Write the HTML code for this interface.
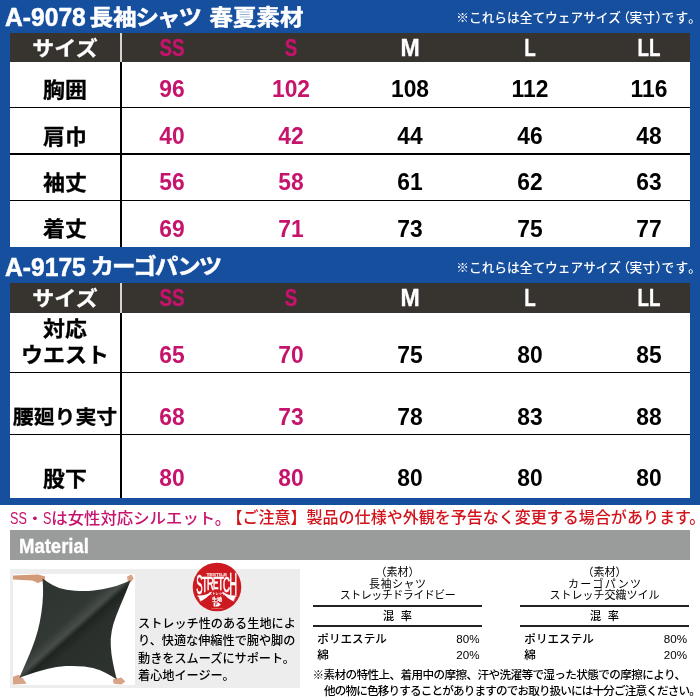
<!DOCTYPE html>
<html lang="ja">
<head>
<meta charset="utf-8">
<title>サイズ表</title>
<style>
html,body{margin:0;padding:0;}
body{width:700px;height:700px;position:relative;overflow:hidden;background:#fff;
 font-family:"Liberation Sans","Noto Sans CJK JP",sans-serif;color:#000;}
.abs{position:absolute;white-space:nowrap;}
.blue{left:0;top:0;width:700px;height:505px;background:#164f9e;}
.ttl{color:#fff;-webkit-text-stroke:.5px #fff;font-weight:bold;font-size:23.5px;line-height:28px;height:28px;}
.ttl .lat{display:inline-block;font-size:25.8px;transform:scaleX(.955);transform-origin:0 50%;position:relative;left:-1.5px;top:-0.2px;}
.ttl .cj{display:inline-block;transform:scaleY(.92);transform-origin:0 55%;}
.note{color:#fff;font-size:12.7px;line-height:16px;font-weight:500;}
.pa{font-feature-settings:"halt" 1;}
.note .pa{margin:0 -.4px 0 2.8px;}
.note .pb{font-feature-settings:"halt" 1;margin:0 -.5px 0 .6px;}
.note .ds{letter-spacing:1.4px;}
.tbl{background:#fff;left:10px;width:680px;}
.hdr{background:#37332f;left:10px;width:680px;}
.hl{background:#000;height:1.4px;left:10px;width:680px;}
.vl{background:#000;width:1.5px;left:120.3px;}
.vlw{background:#d4d4d4;width:1.5px;left:120.3px;}
.c{text-align:center;font-weight:bold;}
.lab{-webkit-text-stroke:.3px currentColor;}
.hd{-webkit-text-stroke:.35px currentColor;}
.lab{font-size:21.5px;line-height:24px;width:120px;left:5px;transform:scale(1.02,.97);}
.num{font-size:24px;line-height:24px;width:100px;transform:scaleX(.95);}
.hd{font-size:23.5px;line-height:24px;width:100px;transform:scaleX(.80);color:#fff;}
.m{color:#c6136c;}
.n1{font-weight:500;font-size:16.4px;line-height:20px;top:508.2px;transform:scaleY(.94);transform-origin:0 50%;}
.sq{display:inline-block;font-size:18px;line-height:20px;vertical-align:top;transform:scaleX(.7);transform-origin:0 50%;position:relative;top:-.4px;}
.bar{left:10px;top:530px;width:680px;height:30px;background:#9a9b9b;}
.mat{left:19.3px;top:534.1px;color:#fff;font-weight:bold;-webkit-text-stroke:.3px #fff;font-size:20px;line-height:24px;transform:scaleX(.925);transform-origin:0 50%;}
.panel{left:10px;top:569px;width:290px;height:119px;background:#ededed;}
.photo{left:13px;top:574px;width:122px;height:111px;background:#fff;}
.desc{left:138px;font-size:12.15px;line-height:17.6px;color:#000;font-weight:500;}
.ct{font-size:11px;line-height:12px;text-align:center;width:180px;color:#000;}
.ln{height:1.4px;background:#222;}
.cm{font-size:11.6px;line-height:14px;color:#000;font-weight:500;}
.fn{font-size:11.6px;line-height:14px;color:#000;letter-spacing:-.85px;font-weight:500;}
</style>
</head>
<body>
<div class="abs blue"></div>
<div class="abs ttl" style="left:6px;top:3.5px;"><span class="lat">A-9078</span></div>
<div class="abs ttl" style="left:89.5px;top:3.5px;"><span class="cj">長袖<span style="letter-spacing:-2px;margin-left:-1px">シャツ</span></span></div>
<div class="abs ttl" style="left:209.5px;top:3.5px;"><span class="cj">春夏素材</span></div>
<div class="abs note" style="left:456.3px;top:9.8px;">※これらは全てウェアサイズ<span class="pa">（</span>実寸<span class="pb">）</span><span class="ds">です。</span></div>
<div class="abs tbl" style="top:33.2px;height:213.9px;"></div>
<div class="abs hdr" style="top:33.2px;height:29.1px;"></div>
<div class="abs vlw" style="top:33.2px;height:29.1px;"></div>
<div class="abs vl" style="top:62.3px;height:184.8px;"></div>
<div class="abs hl" style="top:106.7px;"></div>
<div class="abs hl" style="top:153.3px;"></div>
<div class="abs hl" style="top:199.7px;"></div>
<div class="abs c lab" style="color:#fff;font-size:22px;top:37.1px;transform:scale(1.0,.93);">サイズ</div>
<div class="abs c hd m" style="left:122px;top:35.5px;">SS</div>
<div class="abs c hd m" style="left:241.4px;top:35.5px;">S</div>
<div class="abs c hd" style="left:360.3px;top:35.5px;transform:scaleX(.98);">M</div>
<div class="abs c hd" style="left:479.7px;top:35.5px;">L</div>
<div class="abs c hd" style="left:598.8px;top:35.5px;">LL</div>
<div class="abs c lab" style="top:78px;">胸囲</div>
<div class="abs c num m" style="left:122px;top:77.4px;">96</div>
<div class="abs c num m" style="left:241.4px;top:77.4px;">102</div>
<div class="abs c num" style="left:360.3px;top:77.4px;">108</div>
<div class="abs c num" style="left:479.7px;top:77.4px;">112</div>
<div class="abs c num" style="left:598.8px;top:77.4px;">116</div>
<div class="abs c lab" style="top:124.5px;">肩巾</div>
<div class="abs c num m" style="left:122px;top:123.9px;">40</div>
<div class="abs c num m" style="left:241.4px;top:123.9px;">42</div>
<div class="abs c num" style="left:360.3px;top:123.9px;">44</div>
<div class="abs c num" style="left:479.7px;top:123.9px;">46</div>
<div class="abs c num" style="left:598.8px;top:123.9px;">48</div>
<div class="abs c lab" style="top:170.5px;">袖丈</div>
<div class="abs c num m" style="left:122px;top:170.4px;">56</div>
<div class="abs c num m" style="left:241.4px;top:170.4px;">58</div>
<div class="abs c num" style="left:360.3px;top:170.4px;">61</div>
<div class="abs c num" style="left:479.7px;top:170.4px;">62</div>
<div class="abs c num" style="left:598.8px;top:170.4px;">63</div>
<div class="abs c lab" style="top:216.5px;">着丈</div>
<div class="abs c num m" style="left:122px;top:216.9px;">69</div>
<div class="abs c num m" style="left:241.4px;top:216.9px;">71</div>
<div class="abs c num" style="left:360.3px;top:216.9px;">73</div>
<div class="abs c num" style="left:479.7px;top:216.9px;">75</div>
<div class="abs c num" style="left:598.8px;top:216.9px;">77</div>
<div class="abs ttl" style="left:6px;top:253.5px;"><span class="lat">A-9175</span></div>
<div class="abs ttl" style="left:90.5px;top:253px;"><span class="cj" style="letter-spacing:-2.1px;">カーゴパンツ</span></div>
<div class="abs note" style="left:456.3px;top:259.8px;">※これらは全てウェアサイズ<span class="pa">（</span>実寸<span class="pb">）</span><span class="ds">です。</span></div>
<div class="abs tbl" style="top:283px;height:214.6px;"></div>
<div class="abs hdr" style="top:283px;height:29.5px;"></div>
<div class="abs vlw" style="top:283px;height:29.5px;"></div>
<div class="abs vl" style="top:312.5px;height:185.1px;"></div>
<div class="abs hl" style="top:372.1px;"></div>
<div class="abs hl" style="top:433.5px;"></div>
<div class="abs c lab" style="color:#fff;font-size:22px;top:287.4px;transform:scale(1.0,.93);">サイズ</div>
<div class="abs c hd m" style="left:122px;top:285.8px;">SS</div>
<div class="abs c hd m" style="left:241.4px;top:285.8px;">S</div>
<div class="abs c hd" style="left:360.3px;top:285.8px;transform:scaleX(.98);">M</div>
<div class="abs c hd" style="left:479.7px;top:285.8px;">L</div>
<div class="abs c hd" style="left:598.8px;top:285.8px;">LL</div>
<div class="abs c lab" style="font-size:21.5px;top:317px;">対応</div>
<div class="abs c lab" style="font-size:21.6px;top:343.3px;">ウエスト</div>
<div class="abs c num m" style="left:122px;top:343.4px;">65</div>
<div class="abs c num m" style="left:241.4px;top:343.4px;">70</div>
<div class="abs c num" style="left:360.3px;top:343.4px;">75</div>
<div class="abs c num" style="left:479.7px;top:343.4px;">80</div>
<div class="abs c num" style="left:598.8px;top:343.4px;">85</div>
<div class="abs c lab" style="font-size:20.5px;top:405px;">腰廻り実寸</div>
<div class="abs c num m" style="left:122px;top:404.9px;">68</div>
<div class="abs c num m" style="left:241.4px;top:404.9px;">73</div>
<div class="abs c num" style="left:360.3px;top:404.9px;">78</div>
<div class="abs c num" style="left:479.7px;top:404.9px;">83</div>
<div class="abs c num" style="left:598.8px;top:404.9px;">88</div>
<div class="abs c lab" style="top:467px;">股下</div>
<div class="abs c num m" style="left:122px;top:466.4px;">80</div>
<div class="abs c num m" style="left:241.4px;top:466.4px;">80</div>
<div class="abs c num" style="left:360.3px;top:466.4px;">80</div>
<div class="abs c num" style="left:479.7px;top:466.4px;">80</div>
<div class="abs c num" style="left:598.8px;top:466.4px;">80</div>
<div class="abs n1" style="left:10.3px;color:#c6136c;"><span class="sq" style="width:16.4px;">SS</span>・<span class="sq" style="width:8.2px;">S</span>は女性対応シルエット。</div>
<div class="abs n1" style="left:226.5px;top:507px;transform:none;font-size:16.03px;color:#d3141c;font-weight:500;">【ご注意】製品の仕様や外観を予告なく変更する場合があります。</div>
<div class="abs bar"></div><div class="abs mat">Material</div>
<div class="abs panel"></div><div class="abs photo"></div>
<svg class="abs" style="left:13px;top:574px;" width="122" height="111" viewBox="13 574 122 111">
<path d="M13,575.6 L37.9,574.6 L45.3,576.5 L44.4,580.4 L37.9,583 L32.3,580.4 L13,579.5 Z" fill="#d39a7a"/>
<path d="M127,576.5 L131.6,574.4 L133.700,578.4 L130.700,582.3 L127.600,580.6 Z" fill="#d8a488"/>
<path d="M13,676.8 L18.4,674.7 L23,678.4 L26.700,683.8 L13,684.6 Z" fill="#d8a488"/>
<path d="M112.800,679.6 L121.400,677.5 L125.300,681.4 L121.400,684.4 L113.800,683.8 Z" fill="#d8a488"/>
<path d="M42.5,578.4 L47.6,582.1 Q52.7,585.8 59.2,587.9 Q65.7,590.0 75.0,590.7 Q84.3,591.4 93.6,590.5 Q102.9,589.5 110.3,587.6 Q117.7,585.8 124.2,583.0 L130.7,580.2 L128.3,586.2 Q126.0,592.3 122.8,599.7 Q119.6,607.1 116.3,615.5 Q113.0,623.9 111.7,631.3 Q110.3,638.7 110.8,646.2 Q111.2,653.6 112.6,661.0 Q114.0,668.4 115.4,674.0 L116.8,679.6 L111.7,676.3 Q106.6,673.0 100.1,670.2 Q93.6,667.5 84.3,666.5 Q75.0,665.6 65.7,666.1 Q56.4,666.6 47.1,668.9 Q37.9,671.2 28.6,674.5 L19.3,677.7 L22.6,670.3 Q25.8,662.9 29.0,655.5 Q32.3,648.0 35.1,639.6 Q37.9,631.3 39.8,622.0 Q41.6,612.7 42.5,603.4 Q43.4,594.1 43.0,586.2 L42.5,578.4 Z" fill="url(#fab)"/>
<defs><linearGradient id="fab" gradientUnits="userSpaceOnUse" x1="47" y1="594.4" x2="107" y2="661.6">
<stop offset="0" stop-color="#2f3531"/><stop offset=".36" stop-color="#323834"/><stop offset=".47" stop-color="#474d49"/><stop offset=".53" stop-color="#1f2421"/><stop offset=".64" stop-color="#2a2f2c"/><stop offset="1" stop-color="#2c322e"/>
</linearGradient></defs>
</svg>
<svg class="abs" style="left:190px;top:561px;" width="54" height="52" viewBox="190 561 54 52" font-family="'Liberation Sans','Noto Sans CJK JP',sans-serif">
<circle cx="217" cy="587" r="24.3" fill="#cd1a21"/>
<text x="216.6" y="575.7" font-size="4.4" font-weight="bold" fill="#f9cfcb" stroke="#f9cfcb" stroke-width=".25" text-anchor="middle" textLength="20.4" lengthAdjust="spacingAndGlyphs">TEXTILE</text>
<text transform="translate(199.40,594.40) scale(0.347,1)" font-size="27.37" font-weight="normal" fill="#fff" stroke="#fff" stroke-width=".7" text-anchor="middle">S</text>
<text transform="translate(204.60,592.00) scale(0.476,1)" font-size="21.79" font-weight="normal" fill="#fff" stroke="#fff" stroke-width=".7" text-anchor="middle">T</text>
<text transform="translate(210.35,590.00) scale(0.534,1)" font-size="17.88" font-weight="normal" fill="#fff" stroke="#fff" stroke-width=".7" text-anchor="middle">R</text>
<text transform="translate(215.80,589.20) scale(0.495,1)" font-size="16.48" font-weight="normal" fill="#fff" stroke="#fff" stroke-width=".7" text-anchor="middle">E</text>
<text transform="translate(220.60,590.00) scale(0.580,1)" font-size="17.88" font-weight="normal" fill="#fff" stroke="#fff" stroke-width=".7" text-anchor="middle">T</text>
<text transform="translate(226.40,592.00) scale(0.445,1)" font-size="21.79" font-weight="normal" fill="#fff" stroke="#fff" stroke-width=".7" text-anchor="middle">C</text>
<text transform="translate(233.3,595.20) scale(0.355,1)" font-size="30.73" font-weight="normal" fill="#fff" stroke="#fff" stroke-width=".7" text-anchor="middle">H</text>
<path d="M197.4,595.4 C202,596.2 207.5,594.6 212.2,591.5 C210.5,594.6 206,598.6 200,601.8 L200.6,600.4 L199.3,600.2 L199.9,598.8 L198.5,598.5 L199,597.1 L197.7,596.8 Z" fill="#fff"/>
<path d="M236.6,595.4 C232,596.2 226.5,594.6 221.800,591.5 C223.500,594.6 228,598.6 234,601.8 L233.400,600.4 L234.700,600.2 L234.100,598.8 L235.500,598.5 L235,597.1 L236.300,596.8 Z" fill="#fff"/>
<text x="217" y="595.3" font-size="3.5" font-weight="bold" fill="#fff" text-anchor="middle" textLength="17" lengthAdjust="spacingAndGlyphs">ストレッチ</text>
<text x="217" y="600.7" font-size="5" font-weight="bold" fill="#fff" stroke="#fff" stroke-width=".2" text-anchor="middle">生地</text>
<path d="M213.600,602.4 h4.800 l2.400,2 l-2.400,2 h-4.800 z" fill="#fff"/>
<text x="216.200" y="605.800" font-size="3.6" font-weight="bold" fill="#cd1a21" text-anchor="middle">P</text>
<text x="217.200" y="608.900" font-size="2" font-weight="bold" fill="#f3a9a5" text-anchor="middle" textLength="11" lengthAdjust="spacingAndGlyphs">STRETCH</text>
</svg>
<div class="abs desc" style="top:615.7px;">ストレッチ性のある生地によ</div>
<div class="abs desc" style="top:633.27px;">り、快適な伸縮性で腕や脚の</div>
<div class="abs desc" style="top:650.84px;">動きをスムーズにサポート。</div>
<div class="abs desc" style="top:668.41px;">着心地イージー。</div>
<div class="abs ct" style="left:307.5px;top:566px;"><span class="pa">（</span>素材<span class="pa">）</span></div>
<div class="abs ct" style="left:307.5px;top:577.6px;letter-spacing:0.5px;text-indent:0.5px;">長袖シャツ</div>
<div class="abs ct" style="left:307.5px;top:588.8px;letter-spacing:-0.5px;">ストレッチドライドビー</div>
<div class="abs ln" style="left:313px;top:605.2px;width:168.5px;"></div>
<div class="abs ct" style="left:307.5px;top:609.7px;font-size:11.2px;font-weight:500;word-spacing:3.5px;">混 率</div>
<div class="abs ln" style="left:313px;top:625.2px;width:168.5px;"></div>
<div class="abs cm" style="left:317.3px;top:632px;">ポリエステル</div>
<div class="abs cm" style="left:317.3px;top:648px;">綿</div>
<div class="abs cm" style="left:419.5px;top:632px;width:60px;text-align:right;">80%</div>
<div class="abs cm" style="left:419.5px;top:648px;width:60px;text-align:right;">20%</div>
<div class="abs ct" style="left:514.5px;top:566px;"><span class="pa">（</span>素材<span class="pa">）</span></div>
<div class="abs ct" style="left:514.5px;top:577.6px;letter-spacing:1.3px;text-indent:1.3px;">カーゴパンツ</div>
<div class="abs ct" style="left:514.5px;top:588.8px;letter-spacing:0px;">ストレッチ交織ツイル</div>
<div class="abs ln" style="left:520px;top:605.2px;width:169px;"></div>
<div class="abs ct" style="left:514.5px;top:609.7px;font-size:11.2px;font-weight:500;word-spacing:3.5px;">混 率</div>
<div class="abs ln" style="left:520px;top:625.2px;width:169px;"></div>
<div class="abs cm" style="left:524.3px;top:632px;">ポリエステル</div>
<div class="abs cm" style="left:524.3px;top:648px;">綿</div>
<div class="abs cm" style="left:627px;top:632px;width:60px;text-align:right;">80%</div>
<div class="abs cm" style="left:627px;top:648px;width:60px;text-align:right;">20%</div>
<div class="abs fn" style="left:312.5px;top:667.8px;letter-spacing:-.6px;">※素材の特性上、着用中の摩擦、汗や洗濯等で湿った状態での摩擦により、</div>
<div class="abs fn" style="left:324px;top:683.5px;">他の物に色移りすることがありますのでお取り扱いには十分ご注意ください。</div>
</body>
</html>
